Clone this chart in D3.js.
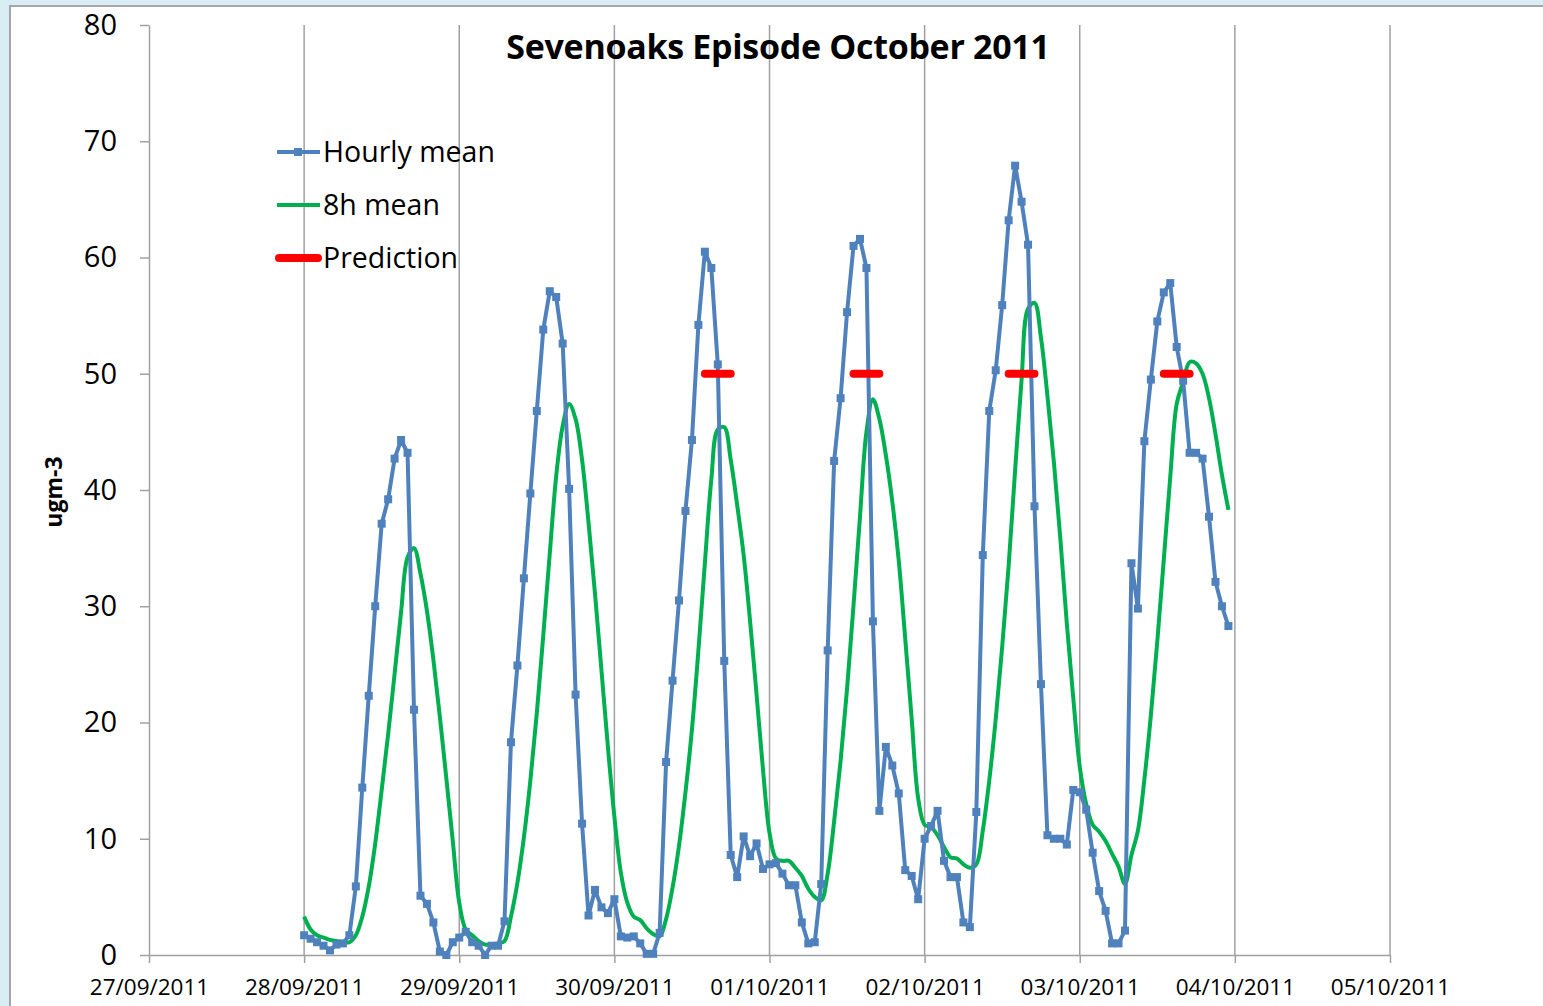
<!DOCTYPE html>
<html>
<head>
<meta charset="utf-8">
<script src="https://cdn.jsdelivr.net/npm/d3@7"></script>
<style>
  body { margin: 0; background: #d8eef4; }
  svg { display: block; }
</style>
</head>
<body>
<div id="chart"></div>
<script>
// hourly readings, 28/09/2011 00:00 onwards (ugm-3)
const hourly = [
  1.7, 1.4, 1.1, 0.8, 0.4, 0.9, 1.0, 1.7, 5.9, 14.4, 22.3, 30.0, 37.1, 39.2, 42.7, 44.3, 43.2, 21.1, 5.1, 4.4, 2.8, 0.3, 0.0, 1.1,
  1.5, 2.0, 1.1, 0.8, 0.0, 0.8, 0.8, 2.9, 18.3, 24.9, 32.4, 39.7, 46.8, 53.8, 57.1, 56.6, 52.6, 40.1, 22.4, 11.3, 3.4, 5.6, 4.1, 3.6,
  4.8, 1.6, 1.5, 1.6, 1.0, 0.1, 0.1, 1.9, 16.6, 23.6, 30.5, 38.2, 44.3, 54.2, 60.5, 59.1, 50.8, 25.3, 8.6, 6.7, 10.2, 8.5, 9.6, 7.4,
  7.8, 7.9, 7.0, 6.0, 6.0, 2.8, 1.0, 1.1, 6.1, 26.2, 42.5, 47.9, 55.3, 61.0, 61.6, 59.1, 28.7, 12.4, 17.9, 16.3, 13.9, 7.3, 6.8, 4.8,
  10.0, 11.1, 12.4, 8.1, 6.7, 6.7, 2.8, 2.4, 12.3, 34.4, 46.8, 50.3, 55.9, 63.2, 67.9, 64.8, 61.1, 38.6, 23.3, 10.3, 10.0, 10.0, 9.5, 14.2,
  14.0, 12.5, 8.8, 5.5, 3.8, 1.0, 1.0, 2.1, 33.7, 29.8, 44.2, 49.5, 54.5, 57.0, 57.8, 52.3, 49.4, 43.2, 43.2, 42.7, 37.7, 32.1, 30.0, 28.3
];

// 8h running mean, same hours
const mean8h = [
  3.3, 2.2, 1.7, 1.5, 1.3, 1.2, 1.1, 1.1, 1.7, 3.3, 5.9, 9.6, 14.2, 19.0, 24.2, 29.5, 34.2, 35.0, 32.8, 29.6, 25.4, 20.5, 15.2, 9.8,
  4.5, 2.2, 1.7, 1.2, 0.9, 0.9, 1.0, 1.2, 3.3, 6.2, 10.1, 15.0, 20.8, 27.5, 34.5, 41.2, 45.5, 47.4, 46.1, 42.6, 37.2, 31.1, 24.5, 17.9,
  11.9, 7.1, 4.5, 3.3, 3.0, 2.3, 1.8, 1.6, 3.1, 5.8, 9.4, 14.0, 19.4, 26.2, 33.7, 40.9, 45.2, 45.4, 42.6, 38.7, 34.4, 28.7, 22.4, 15.9,
  10.5, 8.3, 8.1, 8.1, 7.5, 6.8, 5.7, 5.0, 4.7, 7.0, 11.5, 16.7, 22.9, 30.1, 37.7, 45.0, 47.8, 46.1, 43.0, 39.0, 33.9, 27.2, 20.3, 13.5,
  11.2, 11.0, 10.3, 9.3, 8.4, 8.3, 7.8, 7.5, 7.8, 10.7, 15.0, 20.3, 26.5, 33.5, 41.7, 49.5, 55.6, 56.1, 53.1, 48.1, 42.4, 35.8, 28.5, 22.1,
  16.2, 13.0, 11.2, 10.6, 9.8, 8.7, 7.6, 6.1, 8.6, 10.7, 15.1, 20.6, 27.0, 34.0, 41.1, 47.4, 49.3, 51.0, 50.9, 50.0, 47.9, 44.8, 41.3, 38.3
];

// prediction bars: start / end hour (from 28/09 00:00) and level
const predStart = [62, 85, 109, 133];
const predEnd = [66, 89, 113, 137];
const predValue = [50, 50, 50, 50];

const yTicks = [0, 10, 20, 30, 40, 50, 60, 70, 80];
const seriesNames = ["Hourly mean", "8h mean", "Prediction"];
const colors = ["#4f81bd", "#00b050", "#ff0000"];

const width = 1543, height = 1006;
const t0 = new Date(2011, 8, 28, 0);
const hourAt = h => d3.timeHour.offset(t0, h);

const svg = d3.select("#chart")
  .append("svg")
    .attr("width", width)
    .attr("height", height);

// chart area with border
svg.append("rect")
  .attr("x", 10).attr("y", 6)
  .attr("width", width).attr("height", height)
  .attr("fill", "#ffffff")
  .attr("stroke", "#a6a6a6")
  .attr("stroke-width", 2);

const x = d3.scaleTime()
  .domain([new Date(2011, 8, 27), new Date(2011, 9, 5)])
  .range([149, 1390]);

const y = d3.scaleLinear()
  .domain([0, 80])
  .range([955, 25]);

const days = d3.timeDay.range(new Date(2011, 8, 27), new Date(2011, 9, 6));

// vertical gridlines
svg.append("g")
  .selectAll("line")
  .data(days.slice(1))
  .join("line")
    .attr("x1", d => x(d)).attr("x2", d => x(d))
    .attr("y1", y(80)).attr("y2", y(0))
    .attr("stroke", "#a0a0a0")
    .attr("stroke-width", 1.5);

// axes
const fontFam = "'Open Sans', sans-serif";

const xAxis = svg.append("g")
  .attr("transform", `translate(0,${y(0)})`)
  .call(d3.axisBottom(x)
    .tickValues(days)
    .tickSize(8)
    .tickSizeOuter(0)
    .tickPadding(16)
    .tickFormat(d3.timeFormat("%d/%m/%Y")));

const yAxis = svg.append("g")
  .attr("transform", `translate(${x.range()[0]},0)`)
  .call(d3.axisLeft(y)
    .tickValues(yTicks)
    .tickSize(9)
    .tickSizeOuter(0)
    .tickPadding(23));

[xAxis, yAxis].forEach(g => {
  g.select(".domain").attr("stroke", "#a0a0a0").attr("stroke-width", 1.5);
  g.selectAll(".tick line").attr("stroke", "#a0a0a0").attr("stroke-width", 1.5);
  g.selectAll(".tick text").attr("fill", "#000").style("font-family", fontFam);
});
xAxis.selectAll(".tick text").style("font-size", "22.5px");
yAxis.selectAll(".tick text").style("font-size", "29px");

// axis title
svg.append("text")
  .attr("transform", "translate(62,492) rotate(-90)")
  .attr("text-anchor", "middle")
  .style("font-family", fontFam)
  .style("font-size", "23px")
  .style("font-weight", "bold")
  .text("ugm-3");

// chart title
svg.append("text")
  .attr("x", 778).attr("y", 59)
  .attr("text-anchor", "middle")
  .style("font-family", fontFam)
  .style("font-size", "34px")
  .style("font-weight", "bold")
  .style("letter-spacing", "-0.3px")
  .text("Sevenoaks Episode October 2011");

// 8h mean
const greenLine = d3.line()
  .x((d, i) => x(hourAt(i)))
  .y(d => y(d))
  .curve(d3.curveCatmullRom.alpha(0.5));

svg.append("path")
  .datum(mean8h)
  .attr("fill", "none")
  .attr("stroke", colors[1])
  .attr("stroke-width", 4)
  .attr("d", greenLine);

// hourly mean
const blueLine = d3.line()
  .x((d, i) => x(hourAt(i)))
  .y(d => y(d));

svg.append("path")
  .datum(hourly)
  .attr("fill", "none")
  .attr("stroke", colors[0])
  .attr("stroke-width", 4)
  .attr("stroke-linejoin", "round")
  .attr("d", blueLine);

svg.append("g")
  .selectAll("rect")
  .data(hourly)
  .join("rect")
    .attr("x", (d, i) => x(hourAt(i)) - 4)
    .attr("y", d => y(d) - 4)
    .attr("width", 8).attr("height", 8)
    .attr("fill", colors[0]);

// predictions
svg.append("g")
  .selectAll("line")
  .data(predStart)
  .join("line")
    .attr("x1", d => x(hourAt(d)))
    .attr("x2", (d, i) => x(hourAt(predEnd[i])))
    .attr("y1", (d, i) => y(predValue[i]))
    .attr("y2", (d, i) => y(predValue[i]))
    .attr("stroke", colors[2])
    .attr("stroke-width", 8)
    .attr("stroke-linecap", "round");

// legend
const legend = svg.append("g");
const legY = [152, 205, 258];
seriesNames.forEach((name, i) => {
  const g = legend.append("g").attr("transform", `translate(0,${legY[i]})`);
  g.append("line")
    .attr("x1", i === 2 ? 279 : 277).attr("x2", i === 2 ? 318 : 320)
    .attr("stroke", colors[i])
    .attr("stroke-width", i === 2 ? 8 : 4)
    .attr("stroke-linecap", i === 2 ? "round" : "butt");
  if (i === 0) {
    g.append("rect")
      .attr("x", 294).attr("y", -4)
      .attr("width", 8).attr("height", 8)
      .attr("fill", colors[0]);
  }
  g.append("text")
    .attr("x", 323).attr("y", 10)
    .style("font-family", fontFam)
    .style("font-size", "28.5px")
    .text(name);
});
</script>
</body>
</html>
